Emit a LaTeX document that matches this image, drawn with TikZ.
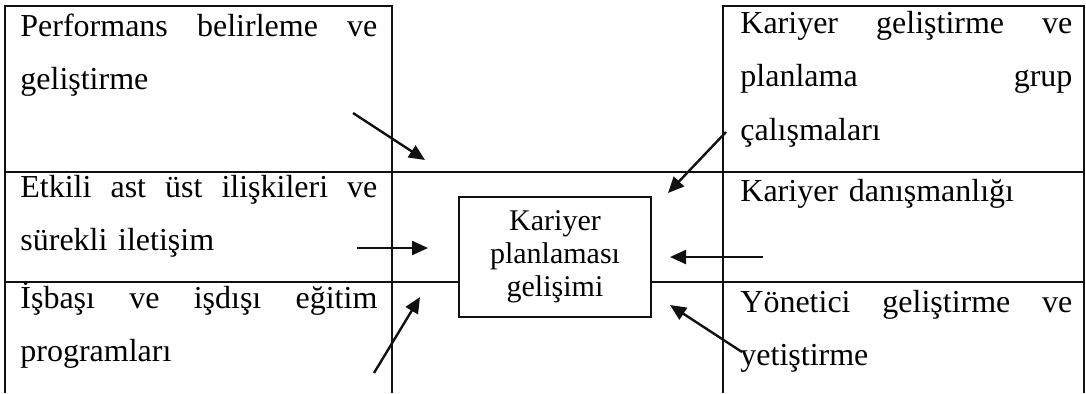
\documentclass[tikz,border=0pt]{standalone}
\usepackage{fontspec}
\setmainfont{Liberation Serif}
\usepackage{xcolor}
\usepackage{tikz}
\usetikzlibrary{positioning, arrows.meta, calc}
\definecolor{inkblack}{HTML}{111111}

\tikzset{
  cellline/.style={line width=1pt, draw=inkblack},
  celltext/.style={anchor=base west, inner sep=0pt, font=\fontsize{16pt}{26.75pt}\selectfont},
  pointer/.style={line width=1.2pt, draw=inkblack, -{Triangle[length=8pt, width=7pt]}},
}

\begin{document}
\begin{tikzpicture}[x=0.5pt, y=-0.5pt]
    \useasboundingbox (0,0) rectangle (1086,393);
    % the two columns
    \draw[cellline] (5,393) -- (5,6) -- (392,6) -- (392,393);
    \draw[cellline] (723,393) -- (723,6) -- (1084,6) -- (1084,393);
    \draw[cellline] (5,172) -- (1084,172);
    % centre box
    \node[draw=inkblack, line width=1pt, minimum width=96pt, minimum height=60pt, inner sep=0pt,
          align=center, font=\fontsize{15pt}{16.5pt}\selectfont] (plan) at (555,257)
          {Kariyer\\planlaması\\gelişimi};
    \coordinate (midleft) at (5,282);
    \coordinate (midright) at (1084,282);
    \draw[cellline] (midleft) -- (midleft -| plan.west);
    \draw[cellline] (plan.east |- midright) -- (midright);

    % left cells
    \node[celltext, text width=178.5pt] (perf) at (20,36) {Performans\hfill belirleme\hfill ve\\geliştirme};
    \node[celltext, text width=178.5pt] (ilisk) at (20,197) {Etkili\hfill ast\hfill üst\hfill ilişkileri\hfill ve\\sürekli iletişim};
    \node[celltext, text width=178.5pt] (egit) at (20,308) {İşbaşı\hfill ve\hfill işdışı\hfill eğitim\\programları};
    % right cells
    \node[celltext, text width=166pt] (grup) at (740,33) {Kariyer\hfill geliştirme\hfill ve\\planlama\hfill grup\\çalışmaları};
    \node[celltext, text width=166pt] (danis) at (740,201) {Kariyer danışmanlığı};
    \node[celltext, text width=166pt] (yonet) at (740,312) {Yönetici\hfill geliştirme\hfill ve\\yetiştirme};

    % arrows towards the box
    \coordinate (perfout) at (353,113);  \coordinate (perfin) at (425,160);
    \coordinate (grupout) at (726,132);  \coordinate (grupin) at (668,193);
    \coordinate (ilisout) at (357,248);  \coordinate (ilisin) at (428,248);
    \coordinate (danisout) at (763,257); \coordinate (danisin) at (670,257);
    \coordinate (egitout) at (374,373);  \coordinate (egitin) at (420,297);
    \coordinate (yonout) at (742,352);   \coordinate (yonin) at (670,305);
    \draw[pointer] (perfout) -- (perfin);
    \draw[pointer] (grupout) -- (grupin);
    \draw[pointer] (ilisout) -- (ilisin);
    \draw[pointer] (danisout) -- (danisin);
    \draw[pointer] (egitout) -- (egitin);
    \draw[pointer] (yonout) -- (yonin);
\end{tikzpicture}
\end{document}
